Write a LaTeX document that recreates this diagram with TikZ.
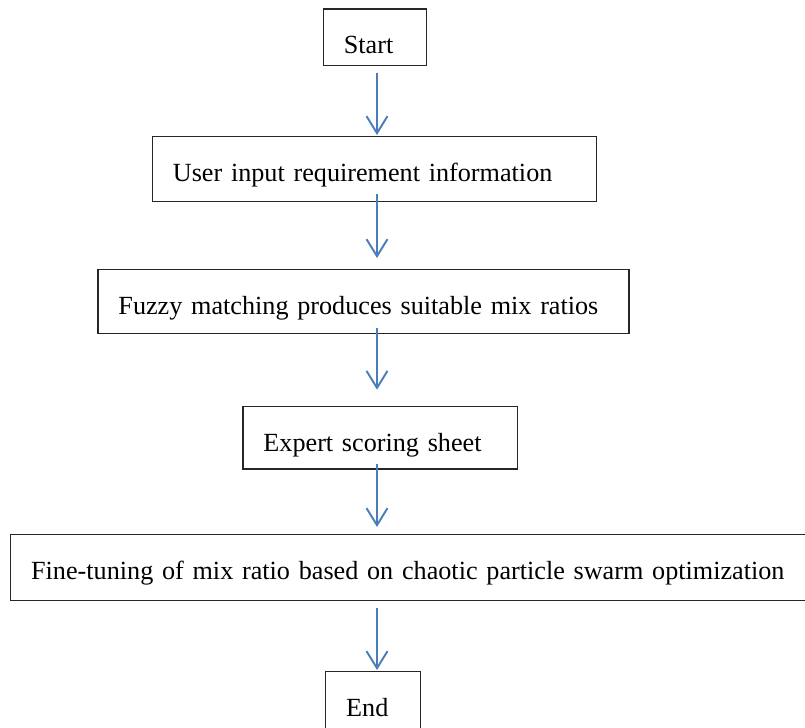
\documentclass[tikz,border=0pt]{standalone}
\usepackage{fontspec}
\setmainfont[WordSpace=0.9]{Liberation Serif}
\usepackage{tikz}
\usetikzlibrary{arrows.meta, calc, positioning}

\definecolor{flowblue}{RGB}{74,126,187}

\tikzset{
	stage/.style={draw=black!85, line width=0.75pt, anchor=north west, align=left,
		inner xsep=0.41cm, inner ysep=0pt, text height=0.9cm,
		font=\fontsize{14.9pt}{18pt}\selectfont},
	flow/.style={flowblue, line width=1.1pt, -{Straight Barb[length=3.4mm, width=4.2mm]}}
}

\begin{document}
\begin{tikzpicture}
						\useasboundingbox (0,0) rectangle (16.1,-14.54);
						\coordinate (spine) at (7.54,0);

						\node[stage, text width=1.24cm, text depth=0.23cm] (start) at (6.454,-0.166) {Start};
						\node[stage, text width=8.066cm, text depth=0.4cm] (user) at (3.034,-2.72) {User input requirement information};
						\node[stage, text width=9.8cm, text depth=0.374cm] (fuzzy) at (1.946,-5.38) {Fuzzy matching produces suitable mix ratios};
						\node[stage, text width=4.668cm, text depth=0.352cm] (expert) at (4.846,-8.114) {Expert scoring sheet};
						\node[stage, text width=15.6cm, text depth=0.41cm] (tuning) at (0.2,-10.68) {Fine-tuning of mix ratio based on chaotic particle swarm optimization};
						\node[stage, text width=1.08cm, text depth=0.5cm] (end) at (6.5,-13.42) {End};

						\draw[flow, shorten <=0.13cm, shorten >=0.02cm] (start.south -| spine) -- (user.north -| spine);
						\draw[flow, shorten <=-0.16cm, shorten >=0.22cm] (user.south -| spine) -- (fuzzy.north -| spine);
						\draw[flow, shorten <=-0.12cm, shorten >=0.32cm] (fuzzy.south -| spine) -- (expert.north -| spine);
						\draw[flow, shorten <=-0.12cm, shorten >=0.14cm] (expert.south -| spine) -- (tuning.north -| spine);
						\draw[flow, shorten <=0.14cm, shorten >=0.02cm] (tuning.south -| spine) -- (end.north -| spine);
					\end{tikzpicture}
\end{document}
